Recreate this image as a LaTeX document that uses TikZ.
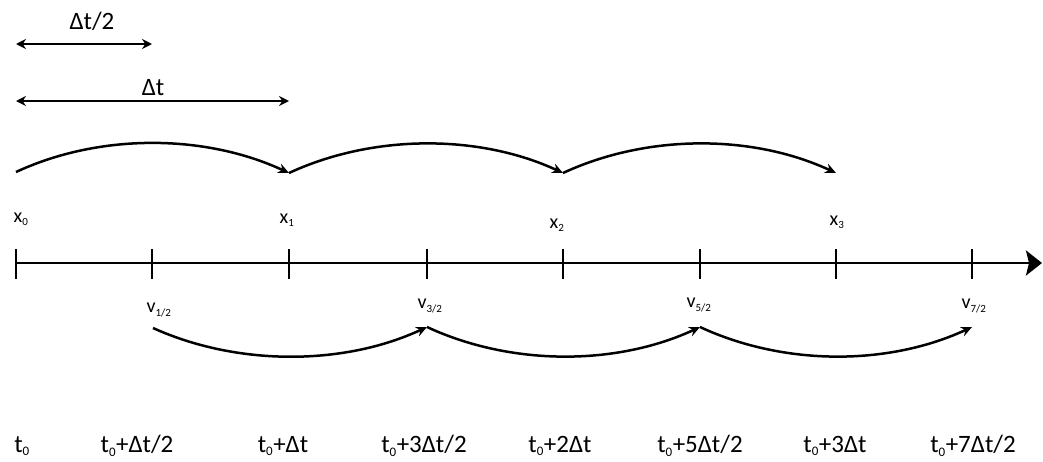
\documentclass[tikz,border=0pt]{standalone}
\usepackage{fontspec}
\setmainfont{Carlito}
\usetikzlibrary{arrows.meta}
\tikzset{
  lbl/.style={inner sep=0pt, font=\fontsize{25}{27}\selectfont},
  pt/.style={inner sep=0pt, font=\fontsize{20}{22}\selectfont},
  tick/.style={line width=2.8pt},
  axis/.style={line width=2.8pt, -{Stealth[length=16pt,width=25pt,inset=3pt]}},
  span/.style={line width=2.5pt, {Stealth[length=10pt,width=10pt]}-{Stealth[length=10pt,width=10pt]}},
  hop/.style={line width=2.5pt, -{Stealth[length=11pt,width=10pt]}}
}
\newcommand{\sub}[1]{\textsubscript{\fontsize{11}{11}\selectfont #1}}
\newcommand{\tsub}[1]{\textsubscript{\fontsize{13}{13}\selectfont #1}}
\begin{document}
\begin{tikzpicture}[x=1pt,y=-1pt]
\useasboundingbox (0,0) rectangle (1043,461);
% axis
\coordinate (a0) at (16,263);
\coordinate (aend) at (1042,263);
\draw[axis] (a0) -- (aend);
\foreach \i/\x in {0/16,1/152,2/289,3/427,4/563,5/700,6/836,7/972}{
  \coordinate (k\i) at (\x,263);
  \coordinate (kt\i) at (\x,249);
  \coordinate (kb\i) at (\x,279);
  \draw[tick] (kt\i) -- (kb\i);
}
% span arrows
\coordinate (s1a) at (16,44); \coordinate (s1b) at (152,44);
\coordinate (s2a) at (16,101); \coordinate (s2b) at (289,101);
\draw[span] (s1a) -- (s1b);
\draw[span] (s2a) -- (s2b);
\node[lbl] (dt2) at (92,21) {Δt/2};
\node[lbl] (dt) at (153,88) {Δt};
% top arcs
\coordinate (p0) at (16,172);
\coordinate (p1) at (289,173);
\coordinate (p2) at (563,173);
\coordinate (p3) at (836,173);
\draw[hop] (p0) .. controls (100,133) and (205,134) .. (p1);
\draw[hop] (p1) .. controls (373,134) and (479,134) .. (p2);
\draw[hop] (p2) .. controls (647,134) and (752,134) .. (p3);
\node[pt] (x0) at (21,219) {x\sub{0}};
\node[pt] (x1) at (287,220) {x\sub{1}};
\node[pt] (x2) at (557,225) {x\sub{2}};
\node[pt] (x3) at (837,222) {x\sub{3}};
% bottom arcs
\coordinate (q0) at (153,328);
\coordinate (q1) at (427,327);
\coordinate (q2) at (700,327);
\coordinate (q3) at (972,327);
\draw[hop] (q0) .. controls (237,366) and (343,366) .. (q1);
\draw[hop] (q1) .. controls (511,366) and (616,366) .. (q2);
\draw[hop] (q2) .. controls (784,366) and (888,366) .. (q3);
\node[pt] (v1) at (159,310) {v\sub{1/2}};
\node[pt] (v3) at (430,306) {v\sub{3/2}};
\node[pt] (v5) at (699,305) {v\sub{5/2}};
\node[pt] (v7) at (974,306) {v\sub{7/2}};
% time labels
\node[lbl] (t0) at (22,446) {t\tsub{0}};
\node[lbl] (t1) at (137,446) {t\tsub{0}+Δt/2};
\node[lbl] (t2) at (283,446) {t\tsub{0}+Δt};
\node[lbl] (t3) at (424,446) {t\tsub{0}+3Δt/2};
\node[lbl] (t4) at (560,446) {t\tsub{0}+2Δt};
\node[lbl] (t5) at (700,446) {t\tsub{0}+5Δt/2};
\node[lbl] (t6) at (835,446) {t\tsub{0}+3Δt};
\node[lbl] (t7) at (973,446) {t\tsub{0}+7Δt/2};
\end{tikzpicture}
\end{document}
